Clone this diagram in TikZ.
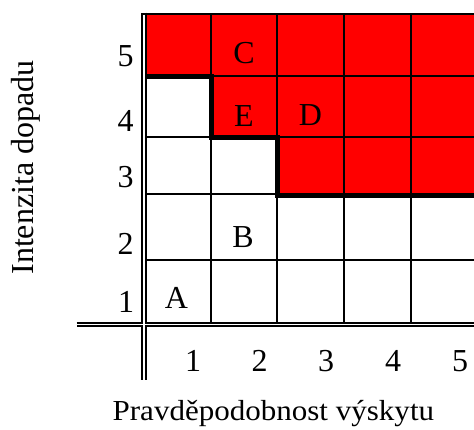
\documentclass[tikz,border=0pt]{standalone}
\usepackage{fontspec}
\setmainfont{Liberation Serif}
\begin{document}
\begin{tikzpicture}[x=1pt,y=-1pt,
  lbl/.style={inner sep=0pt,font=\fontsize{32}{38}\selectfont},
  gridline/.style={line width=2pt},
  stair/.style={line width=5pt},
  dblblack/.style={line width=5.6pt},
  dblwhite/.style={white,line width=1.3pt}]
\useasboundingbox (0,0) rectangle (474,430);
% red risk area
\fill[red] (146,15) -- (474,15) -- (474,195) -- (277,195) -- (277,137.5)
  -- (211,137.5) -- (211,77) -- (146,77) -- cycle;
% thin grid
\draw[gridline] (141,13.8) -- (474,13.8);
\foreach \yy in {76,137,194,260} \draw[gridline] (146,\yy) -- (474,\yy);
\foreach \xx in {211,277,344,411} \draw[gridline] (\xx,14) -- (\xx,322);
% staircase border
\draw[stair] (146,77) -- (211,77) -- (211,137.5) -- (277,137.5) -- (277,195.5) -- (474,195.5);
% double axis lines
\draw[dblblack] (143.85,12.7) -- (143.85,380);
\draw[dblblack] (76.7,324.5) -- (474,324.5);
\draw[dblwhite] (143.85,15) -- (143.85,380);
\draw[dblwhite] (76.7,324.5) -- (474,324.5);
% row labels
\node[lbl] (r5) at (125.5,56.5) {5};
\node[lbl] (r4) at (125.5,121) {4};
\node[lbl] (r3) at (125.5,177.5) {3};
\node[lbl] (r2) at (125.5,244) {2};
\node[lbl] (r1) at (126,302) {1};
% column labels
\node[lbl] (c1) at (193,361) {1};
\node[lbl] (c2) at (259.5,361) {2};
\node[lbl] (c3) at (326,361) {3};
\node[lbl] (c4) at (393,361) {4};
\node[lbl] (c5) at (460,361) {5};
% cell letters
\node[lbl] (C) at (244,53) {C};
\node[lbl] (E) at (244,116.5) {E};
\node[lbl] (D) at (310.5,115.5) {D};
\node[lbl] (B) at (243,237.5) {B};
\node[lbl] (A) at (176.5,297.5) {A};
% axis titles
\node[inner sep=0pt,font=\fontsize{32}{38}\selectfont,rotate=90,anchor=base] (ytitle) at (33,167.5) {Intenzita dopadu};
\node[inner sep=0pt,font=\fontsize{29}{34}\selectfont,anchor=base] (xtitle) at (273.4,420.5) {\scalebox{1.07}[1]{Pravděpodobnost výskytu}};
\end{tikzpicture}
\end{document}
